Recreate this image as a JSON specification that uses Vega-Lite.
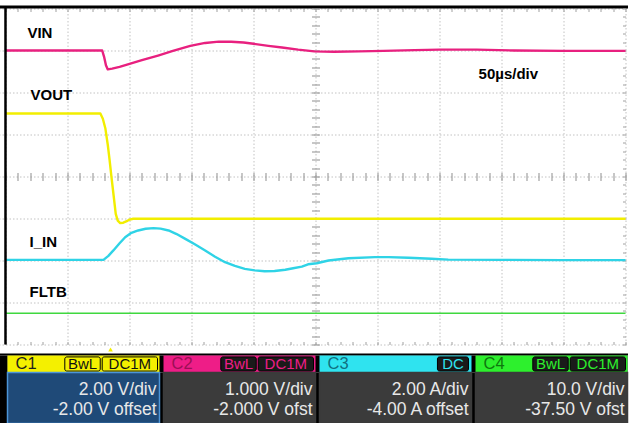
{
  "$schema": "https://vega.github.io/schema/vega-lite/v6.json",
  "autosize": {"type": "pad"},
  "padding": {"left": -1.5, "top": 4.5, "right": 0, "bottom": 0},
  "bounds": "flush",
  "spacing": 11,
  "background": "#ffffff",
  "config": {
    "view": {"stroke": null},
    "font": "Liberation Sans",
    "axis": {"labels": false, "ticks": false, "domain": false, "grid": false, "title": null}
  },
  "datasets": {
    "vin": [
      {"t": 0, "v": 5.0}, {"t": 20, "v": 5.0}, {"t": 40, "v": 5.0}, {"t": 60, "v": 5.0}, {"t": 78, "v": 5.0},
      {"t": 79.5, "v": 4.85}, {"t": 81, "v": 4.65}, {"t": 82.5, "v": 4.55}, {"t": 86, "v": 4.57}, {"t": 92, "v": 4.61},
      {"t": 100, "v": 4.68}, {"t": 110, "v": 4.77}, {"t": 123, "v": 4.88}, {"t": 135, "v": 4.99}, {"t": 149, "v": 5.11},
      {"t": 161, "v": 5.18}, {"t": 172, "v": 5.21}, {"t": 182, "v": 5.21}, {"t": 192, "v": 5.19}, {"t": 200, "v": 5.16},
      {"t": 212, "v": 5.11}, {"t": 223, "v": 5.07}, {"t": 236, "v": 5.02}, {"t": 249, "v": 4.98}, {"t": 265, "v": 4.97},
      {"t": 285, "v": 4.98}, {"t": 305, "v": 4.99}, {"t": 330, "v": 5.01}, {"t": 350, "v": 5.02}, {"t": 380, "v": 5.02},
      {"t": 410, "v": 5.0}, {"t": 450, "v": 4.99}, {"t": 500, "v": 4.99}
    ],
    "vout": [
      {"t": 0, "v": 5.0}, {"t": 40, "v": 5.0}, {"t": 76.5, "v": 5.0}, {"t": 78.5, "v": 4.75}, {"t": 80.5, "v": 4.3},
      {"t": 82.5, "v": 3.5}, {"t": 84, "v": 2.76}, {"t": 85.3, "v": 2.05}, {"t": 87, "v": 1.19}, {"t": 88.9, "v": 0.22},
      {"t": 90.5, "v": -0.1}, {"t": 92.5, "v": -0.22}, {"t": 95, "v": -0.2}, {"t": 97.8, "v": -0.13}, {"t": 100, "v": -0.05},
      {"t": 103, "v": -0.01}, {"t": 150, "v": -0.01}, {"t": 250, "v": -0.01}, {"t": 350, "v": -0.01}, {"t": 500, "v": -0.01}
    ],
    "iin": [
      {"t": 0, "i": 0.03}, {"t": 40, "i": 0.03}, {"t": 79, "i": 0.03}, {"t": 83, "i": 0.22}, {"t": 87, "i": 0.48},
      {"t": 92, "i": 0.82}, {"t": 96.5, "i": 1.11}, {"t": 101, "i": 1.3}, {"t": 107, "i": 1.43}, {"t": 113, "i": 1.51},
      {"t": 119.4, "i": 1.54}, {"t": 125, "i": 1.52}, {"t": 131.5, "i": 1.43}, {"t": 138, "i": 1.26}, {"t": 145, "i": 1.03},
      {"t": 153, "i": 0.76}, {"t": 161, "i": 0.48}, {"t": 169, "i": 0.18}, {"t": 177, "i": -0.08}, {"t": 185, "i": -0.26},
      {"t": 193, "i": -0.4}, {"t": 201, "i": -0.47}, {"t": 209, "i": -0.51}, {"t": 217, "i": -0.5}, {"t": 225.6, "i": -0.44},
      {"t": 232, "i": -0.37}, {"t": 239, "i": -0.29}, {"t": 244, "i": -0.18}, {"t": 251, "i": -0.13}, {"t": 260.5, "i": 0.0},
      {"t": 276.6, "i": 0.11}, {"t": 298, "i": 0.16}, {"t": 309, "i": 0.16}, {"t": 325, "i": 0.13}, {"t": 343.5, "i": 0.08},
      {"t": 357, "i": 0.04}, {"t": 400, "i": 0.03}, {"t": 450, "i": 0.02}, {"t": 500, "i": 0.02}
    ],
    "fltb": [
      {"t": 0, "v": 4.95}, {"t": 500, "v": 4.95}
    ],
    "panel": [
      {"ch": "C1", "scale": "2.00 V/div", "offset": "-2.00 V offset", "bwl": "BwL", "coupling": "DC1M"},
      {"ch": "C2", "scale": "1.000 V/div", "offset": "-2.000 V ofst", "bwl": "BwL", "coupling": "DC1M"},
      {"ch": "C3", "scale": "2.00 A/div", "offset": "-4.00 A offset", "bwl": "", "coupling": "DC"},
      {"ch": "C4", "scale": "10.0 V/div", "offset": "-37.50 V ofst", "bwl": "BwL", "coupling": "DC1M"}
    ]
  },
  "vconcat": [
    {
      "width": 629,
      "height": 338,
      "resolve": {"scale": {"y": "independent"}, "axis": {"x": "independent", "y": "independent"}},
      "layer": [
        {
          "data": {"name": "vin"},
          "mark": {"type": "line", "color": "#e8207f", "strokeWidth": 2.4, "strokeJoin": "round"},
          "encoding": {
            "x": {"field": "t", "type": "quantitative", "scale": {"domain": [-5.645, 501.6], "nice": false, "zero": false},
                  "axis": {"orient": "bottom", "values": [0, 50, 100, 150, 200, 250, 300, 350, 400, 450, 500], "grid": true, "gridColor": "#c2c2c2", "gridDash": [1.5, 2], "gridWidth": 1, "title": null}},
            "y": {"field": "v", "type": "quantitative", "scale": {"domain": [-2, 6.0476], "nice": false, "zero": false}, "axis": null}
          }
        },
        {
          "data": {"name": "vout"},
          "mark": {"type": "line", "color": "#f2ee00", "strokeWidth": 2.4, "strokeJoin": "round"},
          "encoding": {
            "x": {"field": "t", "type": "quantitative", "scale": {"domain": [-5.645, 501.6], "nice": false, "zero": false},
                  "axis": {"orient": "bottom", "offset": -168, "ticks": true, "tickSize": 4, "tickColor": "#8f8f8f", "title": null,
                           "values": [0,10,20,30,40,50,60,70,80,90,100,110,120,130,140,150,160,170,180,190,200,210,220,230,240,250,260,270,280,290,300,310,320,330,340,350,360,370,380,390,400,410,420,430,440,450,460,470,480,490,500]}},
            "y": {"field": "v", "type": "quantitative", "scale": {"domain": [-6, 10.0952], "nice": false, "zero": false}, "axis": null}
          }
        },
        {
          "data": {"name": "iin"},
          "mark": {"type": "line", "color": "#2fd3e6", "strokeWidth": 2.4, "strokeJoin": "round"},
          "encoding": {
            "x": {"field": "t", "type": "quantitative", "scale": {"domain": [-5.645, 501.6], "nice": false, "zero": false},
                  "axis": {"orient": "top", "offset": -170, "ticks": true, "tickSize": 4, "tickColor": "#8f8f8f", "title": null,
                           "values": [0,10,20,30,40,50,60,70,80,90,100,110,120,130,140,150,160,170,180,190,200,210,220,230,240,250,260,270,280,290,300,310,320,330,340,350,360,370,380,390,400,410,420,430,440,450,460,470,480,490,500]}},
            "y": {"field": "i", "type": "quantitative", "scale": {"domain": [-4, 12.0952], "nice": false, "zero": false}, "axis": null}
          }
        },
        {
          "data": {"name": "fltb"},
          "mark": {"type": "line", "color": "#3fd83f", "strokeWidth": 1.6},
          "encoding": {
            "x": {"field": "t", "type": "quantitative", "scale": {"domain": [-5.645, 501.6], "nice": false, "zero": false},
                  "axis": {"orient": "top", "domain": true, "domainColor": "#000000", "domainWidth": 3, "title": null}},
            "y": {"field": "v", "type": "quantitative", "scale": {"domain": [-2.5, 77.976], "nice": false, "zero": false}, "axis": null}
          }
        },
        {
          "data": {"values": [{}]},
          "mark": {"type": "rule", "color": "#000000", "strokeWidth": 2.5},
          "encoding": {
            "x": {"datum": 0, "type": "quantitative", "scale": {"domain": [-5.645, 501.6], "nice": false, "zero": false},
                  "axis": {"orient": "bottom", "offset": 9.5, "domain": true, "domainColor": "#000000", "domainWidth": 2, "title": null}}
          }
        },
        {
          "data": {"values": [{}]},
          "mark": {"type": "point", "shape": "triangle-up", "filled": true, "color": "#f2ee00", "size": 22, "opacity": 1},
          "encoding": {
            "x": {"datum": 84.7, "type": "quantitative", "scale": {"domain": [-5.645, 501.6], "nice": false, "zero": false},
                  "axis": {"orient": "top", "offset": -338, "ticks": true, "tickSize": 3, "tickColor": "#a0a0a0", "title": null,
                           "values": [0,10,20,30,40,50,60,70,80,90,100,110,120,130,140,150,160,170,180,190,200,210,220,230,240,250,260,270,280,290,300,310,320,330,340,350,360,370,380,390,400,410,420,430,440,450,460,470,480,490,500]}},
            "y": {"datum": -4.12, "type": "quantitative", "scale": {"domain": [-4, 4.0476], "nice": false, "zero": false}, "axis": null}
          }
        },
        {
          "data": {"values": [{}]},
          "mark": {"type": "text", "text": "VIN", "align": "left", "baseline": "alphabetic", "fontSize": 15, "fontWeight": "bold", "color": "#000000"},
          "encoding": {
            "x": {"datum": 17.7, "type": "quantitative", "scale": {"domain": [-5.645, 501.6], "nice": false, "zero": false},
                  "axis": {"orient": "bottom", "offset": -336, "ticks": true, "tickSize": 3, "tickColor": "#a0a0a0", "title": null,
                           "values": [0,10,20,30,40,50,60,70,80,90,100,110,120,130,140,150,160,170,180,190,200,210,220,230,240,250,260,270,280,290,300,310,320,330,340,350,360,370,380,390,400,410,420,430,440,450,460,470,480,490,500]}},
            "y": {"datum": 3.286, "type": "quantitative", "scale": {"domain": [-4, 4.0476], "nice": false, "zero": false},
                  "axis": {"orient": "left", "values": [-4, -3, -2, -1, 0, 1, 2, 3, 4], "grid": true, "gridColor": "#c2c2c2", "gridDash": [1.5, 2], "gridWidth": 1, "title": null}}
          }
        },
        {
          "data": {"values": [{}]},
          "mark": {"type": "text", "text": "VOUT", "align": "left", "baseline": "alphabetic", "fontSize": 15, "fontWeight": "bold", "color": "#000000"},
          "encoding": {
            "x": {"datum": 20.2, "type": "quantitative", "scale": {"domain": [-5.645, 501.6], "nice": false, "zero": false}, "axis": null},
            "y": {"datum": 1.81, "type": "quantitative", "scale": {"domain": [-4, 4.0476], "nice": false, "zero": false},
                  "axis": {"orient": "left", "offset": -317, "ticks": true, "tickSize": 4, "tickColor": "#8f8f8f", "title": null,
                           "values": [-4,-3.8,-3.6,-3.4,-3.2,-3,-2.8,-2.6,-2.4,-2.2,-2,-1.8,-1.6,-1.4,-1.2,-1,-0.8,-0.6,-0.4,-0.2,0,0.2,0.4,0.6,0.8,1,1.2,1.4,1.6,1.8,2,2.2,2.4,2.6,2.8,3,3.2,3.4,3.6,3.8,4]}}
          }
        },
        {
          "data": {"values": [{}]},
          "mark": {"type": "text", "text": "I_IN", "align": "left", "baseline": "alphabetic", "fontSize": 15, "fontWeight": "bold", "color": "#000000"},
          "encoding": {
            "x": {"datum": 19.4, "type": "quantitative", "scale": {"domain": [-5.645, 501.6], "nice": false, "zero": false}, "axis": null},
            "y": {"datum": -1.69, "type": "quantitative", "scale": {"domain": [-4, 4.0476], "nice": false, "zero": false},
                  "axis": {"orient": "right", "offset": -312, "ticks": true, "tickSize": 4, "tickColor": "#8f8f8f", "title": null,
                           "values": [-4,-3.8,-3.6,-3.4,-3.2,-3,-2.8,-2.6,-2.4,-2.2,-2,-1.8,-1.6,-1.4,-1.2,-1,-0.8,-0.6,-0.4,-0.2,0,0.2,0.4,0.6,0.8,1,1.2,1.4,1.6,1.8,2,2.2,2.4,2.6,2.8,3,3.2,3.4,3.6,3.8,4]}}
          }
        },
        {
          "data": {"values": [{}]},
          "mark": {"type": "text", "text": "FLTB", "align": "left", "baseline": "alphabetic", "fontSize": 15, "fontWeight": "bold", "color": "#000000"},
          "encoding": {
            "x": {"datum": 19.4, "type": "quantitative", "scale": {"domain": [-5.645, 501.6], "nice": false, "zero": false}, "axis": null},
            "y": {"datum": -2.88, "type": "quantitative", "scale": {"domain": [-4, 4.0476], "nice": false, "zero": false},
                  "axis": {"orient": "left", "offset": -627, "ticks": true, "tickSize": 3, "tickColor": "#a0a0a0", "title": null,
                           "values": [-4,-3.8,-3.6,-3.4,-3.2,-3,-2.8,-2.6,-2.4,-2.2,-2,-1.8,-1.6,-1.4,-1.2,-1,-0.8,-0.6,-0.4,-0.2,0,0.2,0.4,0.6,0.8,1,1.2,1.4,1.6,1.8,2,2.2,2.4,2.6,2.8,3,3.2,3.4,3.6,3.8,4]}}
          }
        },
        {
          "data": {"values": [{}]},
          "mark": {"type": "text", "text": "50µs/div", "align": "left", "baseline": "alphabetic", "fontSize": 15, "fontWeight": "bold", "color": "#000000"},
          "encoding": {
            "x": {"datum": 381.5, "type": "quantitative", "scale": {"domain": [-5.645, 501.6], "nice": false, "zero": false}, "axis": null},
            "y": {"datum": 2.31, "type": "quantitative", "scale": {"domain": [-4, 4.0476], "nice": false, "zero": false}, "axis": null}
          }
        }
      ]
    },
    {
      "bounds": "flush",
      "spacing": 0,
      "hconcat": [
        {
          "width": 9,
          "height": 68,
          "view": {"fill": "#000000", "stroke": null},
          "data": {"values": [{}]},
          "mark": {"type": "text", "text": ""}
        },
        {
          "bounds": "flush",
          "spacing": 0,
          "vconcat": [
            {
              "width": 620,
              "height": 17,
              "view": {"fill": "#000000", "stroke": null},
              "data": {"name": "panel"},
              "resolve": {"scale": {"color": "independent", "fill": "independent"}},
              "layer": [
                {
                  "mark": {"type": "rect"},
                  "encoding": {
                    "x": {"field": "ch", "type": "nominal", "scale": {"domain": ["C1", "C2", "C3", "C4"], "paddingInner": 0.0256, "paddingOuter": 0}, "axis": null},
                    "color": {"field": "ch", "type": "nominal", "scale": {"domain": ["C1", "C2", "C3", "C4"], "range": ["#f4f000", "#ee1d87", "#2fe3ef", "#2df02d"]}, "legend": null}
                  }
                },
                {
                  "mark": {"type": "text", "align": "left", "dx": 8, "baseline": "middle", "fontSize": 16.5},
                  "encoding": {
                    "x": {"field": "ch", "type": "nominal", "bandPosition": 0, "scale": {"domain": ["C1", "C2", "C3", "C4"], "paddingInner": 0.0256, "paddingOuter": 0}, "axis": null},
                    "text": {"field": "ch"},
                    "color": {"field": "ch", "type": "nominal", "scale": {"domain": ["C1", "C2", "C3", "C4"], "range": ["#1e1e1e", "#9b0f55", "#107080", "#0e780e"]}, "legend": null}
                  }
                },
                {
                  "transform": [{"filter": "datum.bwl == 'BwL'"}],
                  "mark": {"type": "rect", "cornerRadius": 2, "stroke": "#000000", "strokeWidth": 1},
                  "encoding": {
                    "x": {"field": "ch", "type": "nominal", "bandPosition": 0.377, "scale": {"domain": ["C1", "C2", "C3", "C4"], "paddingInner": 0.0256, "paddingOuter": 0}, "axis": null},
                    "x2": {"field": "ch", "bandPosition": 0.61},
                    "y": {"datum": "b", "type": "nominal", "scale": {"paddingInner": 0.2, "paddingOuter": 0.08}, "axis": null},
                    "fill": {"field": "ch", "type": "nominal", "scale": {"domain": ["C1", "C2", "C3", "C4"], "range": ["#f4f000", "#1a1a1a", "#1a1a1a", "#1a1a1a"]}, "legend": null}
                  }
                },
                {
                  "transform": [{"filter": "datum.coupling == 'DC1M'"}],
                  "mark": {"type": "rect", "cornerRadius": 2, "stroke": "#000000", "strokeWidth": 1},
                  "encoding": {
                    "x": {"field": "ch", "type": "nominal", "bandPosition": 0.623, "scale": {"domain": ["C1", "C2", "C3", "C4"], "paddingInner": 0.0256, "paddingOuter": 0}, "axis": null},
                    "x2": {"field": "ch", "bandPosition": 0.987},
                    "y": {"datum": "b", "type": "nominal", "scale": {"paddingInner": 0.2, "paddingOuter": 0.08}, "axis": null},
                    "fill": {"field": "ch", "type": "nominal", "scale": {"domain": ["C1", "C2", "C3", "C4"], "range": ["#f4f000", "#1a1a1a", "#1a1a1a", "#1a1a1a"]}, "legend": null}
                  }
                },
                {
                  "transform": [{"filter": "datum.coupling == 'DC'"}],
                  "mark": {"type": "rect", "cornerRadius": 2, "stroke": "#000000", "strokeWidth": 1},
                  "encoding": {
                    "x": {"field": "ch", "type": "nominal", "bandPosition": 0.776, "scale": {"domain": ["C1", "C2", "C3", "C4"], "paddingInner": 0.0256, "paddingOuter": 0}, "axis": null},
                    "x2": {"field": "ch", "bandPosition": 0.98},
                    "y": {"datum": "b", "type": "nominal", "scale": {"paddingInner": 0.2, "paddingOuter": 0.08}, "axis": null},
                    "fill": {"field": "ch", "type": "nominal", "scale": {"domain": ["C1", "C2", "C3", "C4"], "range": ["#f4f000", "#1a1a1a", "#1a1a1a", "#1a1a1a"]}, "legend": null}
                  }
                },
                {
                  "transform": [{"filter": "datum.bwl == 'BwL'"}],
                  "mark": {"type": "text", "align": "center", "baseline": "middle", "fontSize": 15},
                  "encoding": {
                    "x": {"field": "ch", "type": "nominal", "bandPosition": 0.494, "scale": {"domain": ["C1", "C2", "C3", "C4"], "paddingInner": 0.0256, "paddingOuter": 0}, "axis": null},
                    "text": {"field": "bwl"},
                    "color": {"field": "ch", "type": "nominal", "scale": {"domain": ["C1", "C2", "C3", "C4"], "range": ["#111111", "#ee1d87", "#2fe3ef", "#2df02d"]}, "legend": null}
                  }
                },
                {
                  "transform": [{"filter": "datum.coupling == 'DC1M'"}],
                  "mark": {"type": "text", "align": "center", "baseline": "middle", "fontSize": 15},
                  "encoding": {
                    "x": {"field": "ch", "type": "nominal", "bandPosition": 0.805, "scale": {"domain": ["C1", "C2", "C3", "C4"], "paddingInner": 0.0256, "paddingOuter": 0}, "axis": null},
                    "text": {"field": "coupling"},
                    "color": {"field": "ch", "type": "nominal", "scale": {"domain": ["C1", "C2", "C3", "C4"], "range": ["#111111", "#ee1d87", "#2fe3ef", "#2df02d"]}, "legend": null}
                  }
                },
                {
                  "transform": [{"filter": "datum.coupling == 'DC'"}],
                  "mark": {"type": "text", "align": "center", "baseline": "middle", "fontSize": 15},
                  "encoding": {
                    "x": {"field": "ch", "type": "nominal", "bandPosition": 0.878, "scale": {"domain": ["C1", "C2", "C3", "C4"], "paddingInner": 0.0256, "paddingOuter": 0}, "axis": null},
                    "text": {"field": "coupling"},
                    "color": {"field": "ch", "type": "nominal", "scale": {"domain": ["C1", "C2", "C3", "C4"], "range": ["#111111", "#ee1d87", "#2fe3ef", "#2df02d"]}, "legend": null}
                  }
                }
              ]
            },
            {
              "width": 620,
              "height": 51,
              "view": {"fill": "#000000", "stroke": null},
              "data": {"name": "panel"},
              "layer": [
                {
                  "mark": {"type": "rect", "strokeWidth": 1.5},
                  "encoding": {
                    "x": {"field": "ch", "type": "nominal", "scale": {"domain": ["C1", "C2", "C3", "C4"], "paddingInner": 0.0256, "paddingOuter": 0}, "axis": null},
                    "fill": {"field": "ch", "type": "nominal", "scale": {"domain": ["C1", "C2", "C3", "C4"], "range": ["#1f4a78", "#3b3b3b", "#3b3b3b", "#3b3b3b"]}, "legend": null},
                    "stroke": {"field": "ch", "type": "nominal", "scale": {"domain": ["C1", "C2", "C3", "C4"], "range": ["#4c95d8", "#3b3b3b", "#3b3b3b", "#3b3b3b"]}, "legend": null}
                  }
                },
                {
                  "mark": {"type": "text", "align": "right", "dx": -3, "dy": 1.5, "baseline": "middle", "fontSize": 17.5, "color": "#e8e8e8"},
                  "encoding": {
                    "x": {"field": "ch", "type": "nominal", "bandPosition": 1, "scale": {"domain": ["C1", "C2", "C3", "C4"], "paddingInner": 0.0256, "paddingOuter": 0}, "axis": null},
                    "y": {"datum": "scale", "type": "nominal", "scale": {"domain": ["scale", "offset"], "padding": 0.775}, "axis": null},
                    "text": {"field": "scale"}
                  }
                },
                {
                  "mark": {"type": "text", "align": "right", "dx": -3, "dy": 1.5, "baseline": "middle", "fontSize": 17.5, "color": "#e8e8e8"},
                  "encoding": {
                    "x": {"field": "ch", "type": "nominal", "bandPosition": 1, "scale": {"domain": ["C1", "C2", "C3", "C4"], "paddingInner": 0.0256, "paddingOuter": 0}, "axis": null},
                    "y": {"datum": "offset", "type": "nominal", "scale": {"domain": ["scale", "offset"], "padding": 0.775}, "axis": null},
                    "text": {"field": "offset"}
                  }
                }
              ]
            }
          ]
        }
      ]
    }
  ]
}
